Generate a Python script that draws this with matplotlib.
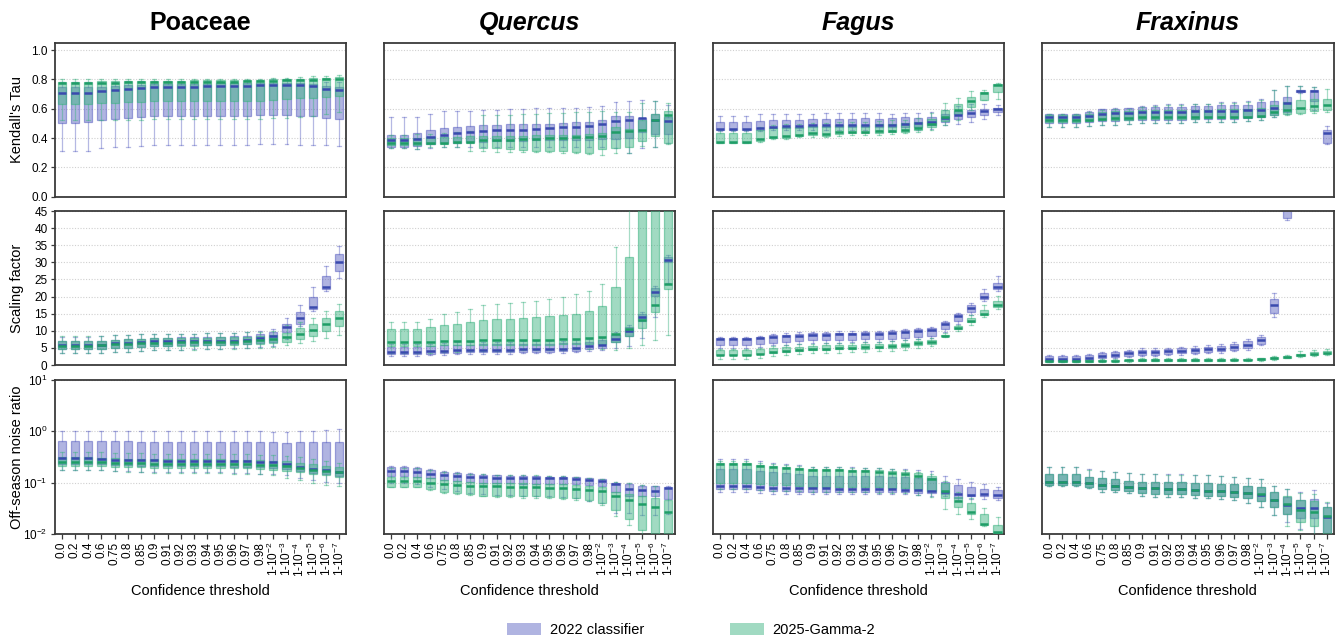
import matplotlib
matplotlib.use("Agg")
import matplotlib.pyplot as plt
from matplotlib.patches import Patch
from matplotlib.ticker import LogLocator, NullLocator, FixedLocator, LogFormatterMathtext

plt.rcParams["font.family"] = ["Liberation Sans", "DejaVu Sans"]
plt.rcParams["mathtext.fontset"] = "custom"
plt.rcParams["mathtext.rm"] = "Liberation Sans"
plt.rcParams["mathtext.it"] = "Liberation Sans:italic"
plt.rcParams["mathtext.bf"] = "Liberation Sans:bold"

# ---------------------------------------------------------------- categories
thresholds = ["0.0", "0.2", "0.4", "0.6", "0.75", "0.8", "0.85", "0.9", "0.91", "0.92",
              "0.93", "0.94", "0.95", "0.96", "0.97", "0.98",
              "1-10$^{-2}$", "1-10$^{-3}$", "1-10$^{-4}$", "1-10$^{-5}$", "1-10$^{-6}$", "1-10$^{-7}$"]
taxa = ["Poaceae", "Quercus", "Fagus", "Fraxinus"]
metrics = ["Kendall's Tau", "Scaling factor", "Off-season noise ratio"]
models = ["2022 classifier", "2025-Gamma-2"]

# ------------------------------------------------ box statistics: Kendall's Tau
poa_tau_22 = dict(
    lo=[0.31, 0.31, 0.31, 0.33, 0.34, 0.34, 0.345, 0.35, 0.35, 0.35, 0.35, 0.35, 0.35, 0.355, 0.355, 0.36, 0.36, 0.36, 0.35, 0.35, 0.35, 0.345],
    q1=[0.505, 0.505, 0.51, 0.52, 0.53, 0.535, 0.54, 0.547, 0.547, 0.549, 0.549, 0.549, 0.551, 0.553, 0.553, 0.556, 0.556, 0.56, 0.551, 0.549, 0.537, 0.53],
    med=[0.71, 0.71, 0.71, 0.72, 0.73, 0.735, 0.74, 0.745, 0.746, 0.748, 0.75, 0.752, 0.753, 0.755, 0.755, 0.76, 0.762, 0.764, 0.76, 0.755, 0.735, 0.725],
    q3=[0.745, 0.745, 0.745, 0.75, 0.755, 0.76, 0.762, 0.765, 0.766, 0.768, 0.77, 0.77, 0.772, 0.773, 0.773, 0.775, 0.776, 0.778, 0.775, 0.77, 0.755, 0.75],
    hi=[0.78, 0.78, 0.78, 0.785, 0.785, 0.79, 0.79, 0.79, 0.79, 0.79, 0.79, 0.79, 0.79, 0.79, 0.795, 0.795, 0.8, 0.8, 0.8, 0.8, 0.78, 0.78])
poa_tau_25 = dict(
    lo=[0.52, 0.52, 0.52, 0.52, 0.525, 0.525, 0.525, 0.53, 0.53, 0.53, 0.53, 0.53, 0.53, 0.53, 0.53, 0.53, 0.535, 0.535, 0.545, 0.55, 0.565, 0.575],
    q1=[0.635, 0.635, 0.635, 0.64, 0.64, 0.645, 0.645, 0.65, 0.65, 0.65, 0.65, 0.65, 0.65, 0.655, 0.655, 0.655, 0.66, 0.665, 0.67, 0.675, 0.68, 0.685],
    med=[0.775, 0.775, 0.775, 0.777, 0.778, 0.78, 0.78, 0.782, 0.782, 0.782, 0.783, 0.783, 0.785, 0.785, 0.787, 0.788, 0.79, 0.793, 0.795, 0.797, 0.8, 0.8],
    q3=[0.785, 0.785, 0.785, 0.787, 0.788, 0.79, 0.79, 0.792, 0.792, 0.792, 0.793, 0.793, 0.795, 0.795, 0.797, 0.798, 0.8, 0.803, 0.805, 0.81, 0.812, 0.815],
    hi=[0.8, 0.8, 0.8, 0.8, 0.8, 0.8, 0.8, 0.8, 0.8, 0.8, 0.8, 0.8, 0.8, 0.8, 0.8, 0.805, 0.81, 0.81, 0.815, 0.82, 0.825, 0.83])

que_tau_22 = dict(
    lo=[0.329, 0.329, 0.324, 0.333, 0.336, 0.34, 0.34, 0.34, 0.34, 0.34, 0.34, 0.34, 0.34, 0.34, 0.34, 0.34, 0.34, 0.329, 0.295, 0.329, 0.34, 0.363],
    q1=[0.34, 0.34, 0.345, 0.358, 0.363, 0.363, 0.372, 0.376, 0.379, 0.379, 0.379, 0.385, 0.385, 0.385, 0.385, 0.385, 0.39, 0.395, 0.397, 0.442, 0.43, 0.426],
    med=[0.385, 0.385, 0.39, 0.408, 0.424, 0.433, 0.442, 0.449, 0.454, 0.454, 0.454, 0.463, 0.467, 0.472, 0.476, 0.483, 0.497, 0.517, 0.526, 0.535, 0.526, 0.515],
    q3=[0.424, 0.424, 0.431, 0.454, 0.467, 0.472, 0.481, 0.488, 0.49, 0.494, 0.494, 0.499, 0.499, 0.503, 0.508, 0.508, 0.522, 0.549, 0.553, 0.537, 0.565, 0.54],
    hi=[0.54, 0.54, 0.544, 0.562, 0.583, 0.583, 0.587, 0.594, 0.594, 0.596, 0.599, 0.603, 0.605, 0.608, 0.608, 0.612, 0.617, 0.644, 0.653, 0.658, 0.653, 0.624])
que_tau_25 = dict(
    lo=[0.329, 0.329, 0.327, 0.336, 0.336, 0.34, 0.313, 0.311, 0.306, 0.306, 0.306, 0.306, 0.306, 0.299, 0.295, 0.29, 0.283, 0.299, 0.299, 0.347, 0.34, 0.358],
    q1=[0.351, 0.351, 0.351, 0.356, 0.358, 0.363, 0.363, 0.329, 0.329, 0.324, 0.317, 0.313, 0.313, 0.313, 0.306, 0.299, 0.324, 0.329, 0.336, 0.381, 0.413, 0.363],
    med=[0.363, 0.363, 0.367, 0.367, 0.367, 0.372, 0.374, 0.385, 0.385, 0.385, 0.39, 0.392, 0.397, 0.399, 0.404, 0.408, 0.417, 0.438, 0.449, 0.454, 0.526, 0.556],
    q3=[0.397, 0.397, 0.401, 0.404, 0.408, 0.408, 0.413, 0.413, 0.417, 0.417, 0.417, 0.42, 0.42, 0.422, 0.424, 0.426, 0.431, 0.472, 0.461, 0.522, 0.567, 0.583],
    hi=[0.42, 0.42, 0.425, 0.43, 0.435, 0.44, 0.445, 0.556, 0.556, 0.56, 0.567, 0.567, 0.571, 0.574, 0.578, 0.578, 0.583, 0.578, 0.578, 0.642, 0.653, 0.642])

fag_tau_22 = dict(
    lo=[0.447, 0.447, 0.447, 0.449, 0.454, 0.454, 0.454, 0.454, 0.454, 0.454, 0.454, 0.454, 0.454, 0.454, 0.454, 0.458, 0.463, 0.488, 0.494, 0.51, 0.533, 0.556],
    q1=[0.454, 0.454, 0.454, 0.458, 0.465, 0.467, 0.469, 0.472, 0.474, 0.474, 0.474, 0.476, 0.476, 0.476, 0.476, 0.478, 0.488, 0.51, 0.533, 0.54, 0.556, 0.576],
    med=[0.463, 0.463, 0.463, 0.469, 0.476, 0.481, 0.483, 0.488, 0.49, 0.49, 0.49, 0.492, 0.492, 0.492, 0.497, 0.501, 0.51, 0.537, 0.56, 0.574, 0.585, 0.596],
    q3=[0.506, 0.506, 0.506, 0.515, 0.522, 0.526, 0.526, 0.531, 0.533, 0.533, 0.533, 0.535, 0.533, 0.535, 0.54, 0.535, 0.54, 0.567, 0.585, 0.59, 0.601, 0.608],
    hi=[0.553, 0.553, 0.553, 0.562, 0.562, 0.562, 0.567, 0.567, 0.571, 0.571, 0.574, 0.574, 0.571, 0.567, 0.569, 0.569, 0.578, 0.594, 0.617, 0.63, 0.63, 0.624])
fag_tau_25 = dict(
    lo=[0.363, 0.363, 0.363, 0.374, 0.39, 0.395, 0.404, 0.408, 0.408, 0.417, 0.42, 0.422, 0.424, 0.426, 0.431, 0.442, 0.458, 0.488, 0.522, 0.59, 0.658, 0.669],
    q1=[0.367, 0.367, 0.367, 0.381, 0.397, 0.401, 0.413, 0.42, 0.417, 0.426, 0.431, 0.431, 0.435, 0.44, 0.444, 0.458, 0.476, 0.517, 0.567, 0.612, 0.662, 0.714],
    med=[0.374, 0.374, 0.374, 0.39, 0.408, 0.413, 0.424, 0.431, 0.426, 0.438, 0.442, 0.442, 0.447, 0.451, 0.458, 0.469, 0.494, 0.54, 0.59, 0.651, 0.707, 0.764],
    q3=[0.435, 0.435, 0.435, 0.454, 0.465, 0.472, 0.476, 0.481, 0.481, 0.488, 0.49, 0.49, 0.494, 0.499, 0.501, 0.51, 0.533, 0.59, 0.63, 0.68, 0.714, 0.771],
    hi=[0.454, 0.454, 0.454, 0.472, 0.488, 0.494, 0.499, 0.503, 0.503, 0.508, 0.512, 0.512, 0.517, 0.522, 0.526, 0.537, 0.571, 0.639, 0.672, 0.72, 0.73, 0.775])

fra_tau_22 = dict(
    lo=[0.476, 0.476, 0.476, 0.483, 0.492, 0.492, 0.499, 0.503, 0.503, 0.503, 0.503, 0.508, 0.51, 0.512, 0.512, 0.517, 0.522, 0.54, 0.567, 0.707, 0.59, 0.358],
    q1=[0.503, 0.503, 0.503, 0.512, 0.517, 0.517, 0.522, 0.526, 0.526, 0.526, 0.526, 0.531, 0.531, 0.531, 0.531, 0.535, 0.544, 0.556, 0.578, 0.712, 0.653, 0.363],
    med=[0.54, 0.54, 0.54, 0.551, 0.567, 0.571, 0.574, 0.578, 0.578, 0.578, 0.58, 0.583, 0.585, 0.585, 0.587, 0.59, 0.594, 0.608, 0.639, 0.719, 0.719, 0.431],
    q3=[0.562, 0.562, 0.562, 0.58, 0.596, 0.601, 0.605, 0.612, 0.612, 0.612, 0.612, 0.619, 0.621, 0.624, 0.624, 0.628, 0.644, 0.653, 0.68, 0.726, 0.73, 0.458],
    hi=[0.567, 0.567, 0.567, 0.585, 0.601, 0.605, 0.608, 0.617, 0.624, 0.63, 0.63, 0.635, 0.635, 0.644, 0.646, 0.653, 0.669, 0.73, 0.753, 0.753, 0.748, 0.483])
fra_tau_25 = dict(
    lo=[0.476, 0.476, 0.476, 0.483, 0.492, 0.492, 0.499, 0.503, 0.503, 0.503, 0.503, 0.508, 0.51, 0.512, 0.512, 0.517, 0.522, 0.54, 0.556, 0.567, 0.571, 0.578],
    q1=[0.506, 0.506, 0.506, 0.515, 0.522, 0.522, 0.526, 0.531, 0.531, 0.531, 0.531, 0.533, 0.535, 0.537, 0.537, 0.54, 0.544, 0.556, 0.567, 0.571, 0.583, 0.594],
    med=[0.522, 0.522, 0.522, 0.526, 0.533, 0.535, 0.535, 0.54, 0.54, 0.54, 0.54, 0.54, 0.542, 0.544, 0.544, 0.546, 0.553, 0.578, 0.59, 0.605, 0.621, 0.624],
    q3=[0.556, 0.556, 0.556, 0.562, 0.578, 0.583, 0.585, 0.59, 0.59, 0.59, 0.59, 0.594, 0.594, 0.596, 0.596, 0.599, 0.605, 0.624, 0.646, 0.658, 0.669, 0.664],
    hi=[0.562, 0.562, 0.562, 0.578, 0.594, 0.599, 0.601, 0.61, 0.617, 0.624, 0.624, 0.63, 0.63, 0.639, 0.639, 0.646, 0.662, 0.73, 0.755, 0.757, 0.748, 0.737])

# ---------------------------------------------- box statistics: scaling factor
poa_scl_22 = dict(
    lo=[3.4, 3.4, 3.4, 3.6, 3.8, 3.9, 4.1, 4.3, 4.4, 4.5, 4.6, 4.7, 4.8, 4.9, 5.0, 5.2, 5.5, 7.5, 11.3, 15.7, 21.5, 25.4],
    q1=[4.6, 4.6, 4.6, 4.7, 5.0, 5.1, 5.4, 5.6, 5.6, 5.7, 5.7, 5.8, 5.9, 6.0, 6.1, 6.4, 6.8, 9.6, 12.1, 16.4, 22.3, 27.6],
    med=[5.7, 5.7, 5.7, 5.9, 6.3, 6.3, 6.6, 6.9, 6.9, 6.9, 6.9, 7.1, 7.1, 7.1, 7.4, 7.9, 8.4, 11.0, 13.8, 17.0, 22.8, 30.1],
    q3=[7.0, 7.0, 7.0, 7.1, 7.4, 7.5, 7.7, 8.0, 8.0, 8.1, 8.1, 8.2, 8.3, 8.4, 8.6, 9.0, 9.7, 12.0, 15.4, 19.9, 25.9, 32.4],
    hi=[8.3, 8.3, 8.3, 8.5, 8.7, 8.8, 9.0, 9.1, 9.1, 9.2, 9.2, 9.3, 9.3, 9.4, 9.5, 9.8, 10.5, 13.8, 17.6, 22.8, 29.0, 34.9])
poa_scl_25 = dict(
    lo=[3.4, 3.4, 3.4, 3.5, 3.8, 3.9, 4.1, 4.3, 4.4, 4.4, 4.5, 4.6, 4.7, 4.8, 4.9, 5.1, 5.3, 5.8, 6.3, 7.0, 8.0, 8.9],
    q1=[4.6, 4.6, 4.6, 4.7, 5.0, 5.1, 5.3, 5.5, 5.5, 5.6, 5.6, 5.7, 5.8, 5.9, 6.0, 6.2, 6.5, 6.7, 7.5, 8.6, 9.9, 11.3],
    med=[5.5, 5.5, 5.5, 5.7, 6.0, 6.1, 6.3, 6.5, 6.5, 6.6, 6.6, 6.7, 6.8, 6.8, 7.0, 7.2, 7.5, 8.2, 9.1, 10.3, 12.0, 13.8],
    q3=[7.0, 7.0, 7.0, 7.1, 7.4, 7.5, 7.6, 7.8, 7.8, 7.9, 7.9, 8.0, 8.1, 8.2, 8.3, 8.5, 8.9, 9.4, 10.9, 12.0, 13.8, 15.7],
    hi=[8.4, 8.4, 8.4, 8.6, 8.8, 8.8, 9.0, 9.1, 9.1, 9.2, 9.2, 9.3, 9.3, 9.4, 9.5, 9.7, 10.0, 11.8, 12.5, 13.8, 15.7, 17.7])

que_scl_22 = dict(
    lo=[2.6, 2.6, 2.6, 2.8, 3.0, 3.1, 3.2, 3.3, 3.3, 3.3, 3.4, 3.4, 3.4, 3.5, 3.7, 4.0, 4.3, 5.0, 5.5, 8.0, 14.0, 24.0],
    q1=[3.2, 3.2, 3.2, 3.3, 3.5, 3.6, 3.7, 3.8, 3.8, 3.8, 3.9, 3.9, 3.9, 4.0, 4.2, 4.6, 5.0, 6.8, 8.5, 12.8, 20.3, 30.2],
    med=[3.8, 3.8, 3.8, 4.0, 4.2, 4.3, 4.4, 4.5, 4.5, 4.5, 4.6, 4.6, 4.6, 4.8, 5.0, 5.5, 5.8, 7.7, 9.9, 14.1, 21.2, 30.7],
    q3=[5.3, 5.3, 5.3, 5.5, 5.7, 5.8, 5.9, 6.0, 6.0, 6.0, 6.1, 6.1, 6.1, 6.3, 6.5, 6.8, 7.3, 8.9, 11.0, 14.9, 22.6, 31.7],
    hi=[6.0, 6.0, 6.0, 6.2, 6.5, 6.6, 6.7, 6.8, 6.8, 6.8, 6.9, 6.9, 6.9, 7.1, 7.3, 7.5, 8.0, 9.5, 11.6, 15.5, 23.0, 32.2])
que_scl_25 = dict(
    lo=[3.4, 3.4, 3.4, 3.5, 3.8, 3.9, 4.0, 4.1, 4.2, 4.2, 4.3, 4.3, 4.4, 4.5, 4.6, 4.7, 4.8, 4.4, 5.0, 5.8, 7.2, 8.8],
    q1=[5.5, 5.5, 5.5, 5.6, 5.7, 5.7, 5.8, 5.8, 5.8, 5.8, 5.9, 5.9, 5.9, 6.0, 6.0, 6.1, 6.2, 6.8, 8.4, 10.9, 15.5, 22.3],
    med=[6.7, 6.7, 6.7, 6.8, 7.0, 7.0, 7.1, 7.2, 7.2, 7.2, 7.2, 7.2, 7.2, 7.5, 7.6, 7.8, 8.1, 9.1, 10.4, 13.1, 17.4, 23.7],
    q3=[10.4, 10.4, 10.4, 11.1, 11.7, 12.1, 12.6, 13.1, 13.3, 13.5, 13.7, 14.0, 14.3, 14.5, 15.0, 15.7, 17.2, 22.7, 31.5, 60.0, 70.0, 80.0],
    hi=[12.5, 12.5, 12.5, 13.5, 14.9, 15.6, 16.5, 17.6, 17.7, 18.2, 18.5, 18.8, 19.3, 19.9, 20.7, 21.7, 23.7, 34.4, 60.0, 80.0, 90.0, 100.0])

fag_scl_22 = dict(
    lo=[5.0, 5.0, 5.0, 5.2, 5.7, 5.8, 6.1, 6.5, 6.5, 6.5, 6.6, 6.7, 6.7, 7.0, 7.2, 7.5, 8.0, 9.6, 12.1, 14.7, 18.7, 21.7],
    q1=[5.8, 5.8, 5.8, 6.0, 6.5, 6.7, 6.9, 7.2, 7.2, 7.2, 7.3, 7.5, 7.5, 7.7, 7.9, 8.2, 8.6, 10.4, 12.8, 15.5, 19.2, 22.3],
    med=[7.5, 7.5, 7.5, 7.8, 8.2, 8.4, 8.6, 8.9, 8.9, 9.0, 9.0, 9.2, 9.2, 9.4, 9.6, 9.8, 10.2, 12.1, 14.3, 16.7, 19.9, 22.8],
    q3=[8.0, 8.0, 8.0, 8.3, 8.7, 8.9, 9.0, 9.3, 9.3, 9.4, 9.4, 9.6, 9.6, 9.8, 10.1, 10.4, 10.9, 12.6, 14.8, 17.6, 21.0, 24.0],
    hi=[8.2, 8.2, 8.2, 8.6, 9.1, 9.3, 9.5, 9.7, 9.7, 9.8, 9.9, 10.0, 10.0, 10.2, 10.4, 10.8, 11.1, 13.0, 15.1, 18.0, 22.1, 25.9])
fag_scl_25 = dict(
    lo=[1.8, 1.8, 1.8, 2.1, 2.6, 2.8, 3.1, 3.4, 3.6, 3.6, 3.7, 3.9, 4.0, 4.2, 4.5, 4.9, 5.5, 8.3, 9.9, 11.8, 14.0, 16.5],
    q1=[2.8, 2.8, 2.8, 3.1, 3.6, 3.8, 4.1, 4.4, 4.5, 4.6, 4.7, 4.8, 4.9, 5.1, 5.4, 5.8, 6.2, 8.5, 10.6, 12.6, 14.7, 16.9],
    med=[3.0, 3.0, 3.0, 3.3, 3.8, 4.0, 4.4, 4.8, 4.8, 4.9, 5.0, 5.2, 5.3, 5.5, 5.9, 6.3, 6.7, 8.6, 10.9, 12.8, 14.9, 17.4],
    q3=[4.3, 4.3, 4.3, 4.6, 5.0, 5.2, 5.4, 5.6, 5.7, 5.8, 5.8, 6.0, 6.1, 6.2, 6.5, 6.9, 7.3, 8.9, 11.4, 13.6, 16.1, 18.7],
    hi=[4.7, 4.7, 4.7, 5.0, 5.5, 5.7, 6.0, 6.2, 6.3, 6.4, 6.5, 6.7, 6.7, 6.9, 7.2, 7.5, 8.0, 9.4, 11.8, 14.5, 17.6, 20.2])

fra_scl_22 = dict(
    lo=[0.9, 0.9, 0.9, 1.2, 1.6, 1.9, 2.2, 2.6, 2.6, 2.8, 3.0, 3.2, 3.4, 3.6, 4.1, 4.5, 5.8, 14.1, 42.5, 50.0, 60.0, 70.0],
    q1=[1.2, 1.2, 1.2, 1.5, 2.0, 2.3, 2.6, 3.0, 3.0, 3.2, 3.4, 3.6, 3.8, 4.0, 4.5, 5.0, 6.2, 15.2, 43.0, 55.0, 65.0, 75.0],
    med=[1.8, 1.8, 1.8, 2.1, 2.7, 3.0, 3.4, 3.8, 3.8, 4.0, 4.2, 4.4, 4.6, 4.8, 5.3, 5.8, 7.3, 17.4, 48.0, 60.0, 70.0, 80.0],
    q3=[2.5, 2.5, 2.5, 2.9, 3.4, 3.7, 4.1, 4.5, 4.5, 4.7, 4.9, 5.1, 5.3, 5.6, 6.2, 6.9, 8.3, 19.3, 60.0, 70.0, 80.0, 90.0],
    hi=[2.8, 2.8, 2.8, 3.2, 3.8, 4.1, 4.5, 4.9, 4.9, 5.1, 5.3, 5.5, 5.8, 6.1, 6.8, 7.5, 8.9, 21.0, 70.0, 80.0, 90.0, 100.0])
fra_scl_25 = dict(
    lo=[0.8, 0.8, 0.8, 0.8, 0.9, 0.9, 1.0, 1.1, 1.1, 1.1, 1.1, 1.1, 1.1, 1.1, 1.2, 1.2, 1.3, 1.5, 1.9, 2.3, 2.6, 2.8],
    q1=[1.0, 1.0, 1.0, 1.0, 1.1, 1.1, 1.2, 1.3, 1.3, 1.3, 1.3, 1.3, 1.3, 1.3, 1.4, 1.4, 1.5, 1.7, 2.1, 2.6, 2.9, 3.1],
    med=[1.2, 1.2, 1.2, 1.2, 1.3, 1.3, 1.4, 1.5, 1.5, 1.5, 1.5, 1.5, 1.5, 1.5, 1.6, 1.6, 1.7, 1.9, 2.3, 2.9, 3.3, 3.6],
    q3=[1.4, 1.4, 1.4, 1.5, 1.5, 1.6, 1.6, 1.7, 1.7, 1.7, 1.7, 1.7, 1.7, 1.8, 1.8, 1.8, 1.9, 2.2, 2.6, 3.3, 3.9, 4.2],
    hi=[1.6, 1.6, 1.6, 1.7, 1.7, 1.8, 1.8, 1.9, 1.9, 1.9, 1.9, 1.9, 1.9, 2.0, 2.0, 2.0, 2.1, 2.5, 3.0, 4.0, 4.5, 4.8])

# --------------------------------------- box statistics: off-season noise ratio
poa_noi_22 = dict(
    lo=[0.18, 0.18, 0.18, 0.175, 0.17, 0.17, 0.165, 0.16, 0.16, 0.16, 0.16, 0.16, 0.16, 0.155, 0.155, 0.15, 0.15, 0.14, 0.125, 0.115, 0.105, 0.1],
    q1=[0.235, 0.235, 0.235, 0.23, 0.22, 0.22, 0.215, 0.21, 0.21, 0.21, 0.21, 0.21, 0.21, 0.205, 0.205, 0.2, 0.195, 0.185, 0.17, 0.155, 0.145, 0.135],
    med=[0.30, 0.30, 0.30, 0.29, 0.277, 0.277, 0.277, 0.277, 0.27, 0.27, 0.27, 0.27, 0.27, 0.27, 0.265, 0.257, 0.25, 0.23, 0.2, 0.185, 0.177, 0.164],
    q3=[0.66, 0.66, 0.66, 0.65, 0.64, 0.64, 0.63, 0.63, 0.62, 0.62, 0.62, 0.62, 0.62, 0.62, 0.62, 0.61, 0.61, 0.60, 0.61, 0.61, 0.62, 0.63],
    hi=[1.0, 1.0, 1.0, 1.0, 1.0, 1.0, 1.0, 1.0, 1.0, 1.0, 1.0, 1.0, 1.0, 1.0, 1.0, 1.0, 0.98, 0.98, 1.0, 1.02, 1.07, 1.1])
poa_noi_25 = dict(
    lo=[0.18, 0.18, 0.18, 0.175, 0.17, 0.165, 0.16, 0.155, 0.155, 0.155, 0.155, 0.155, 0.155, 0.15, 0.15, 0.145, 0.14, 0.125, 0.115, 0.10, 0.09, 0.085],
    q1=[0.215, 0.215, 0.215, 0.21, 0.205, 0.2, 0.2, 0.195, 0.195, 0.195, 0.195, 0.195, 0.195, 0.19, 0.19, 0.185, 0.18, 0.17, 0.16, 0.145, 0.14, 0.13],
    med=[0.255, 0.255, 0.255, 0.25, 0.245, 0.24, 0.24, 0.235, 0.235, 0.235, 0.235, 0.235, 0.235, 0.23, 0.23, 0.225, 0.22, 0.21, 0.195, 0.18, 0.17, 0.16],
    q3=[0.31, 0.31, 0.31, 0.30, 0.30, 0.295, 0.29, 0.29, 0.29, 0.285, 0.285, 0.285, 0.285, 0.28, 0.28, 0.275, 0.27, 0.26, 0.245, 0.23, 0.215, 0.2],
    hi=[0.40, 0.40, 0.40, 0.39, 0.38, 0.38, 0.37, 0.36, 0.36, 0.36, 0.36, 0.36, 0.36, 0.36, 0.36, 0.35, 0.34, 0.33, 0.31, 0.29, 0.265, 0.245])

que_noi_22 = dict(
    lo=[0.098, 0.098, 0.093, 0.084, 0.075, 0.070, 0.064, 0.060, 0.058, 0.058, 0.056, 0.055, 0.054, 0.052, 0.051, 0.044, 0.040, 0.026, 0.026, 0.023, 0.023, 0.025],
    q1=[0.135, 0.135, 0.131, 0.122, 0.113, 0.108, 0.104, 0.100, 0.098, 0.098, 0.096, 0.096, 0.095, 0.095, 0.093, 0.091, 0.087, 0.067, 0.055, 0.055, 0.055, 0.048],
    med=[0.167, 0.167, 0.164, 0.148, 0.142, 0.135, 0.131, 0.128, 0.126, 0.126, 0.124, 0.124, 0.122, 0.122, 0.118, 0.113, 0.108, 0.093, 0.076, 0.072, 0.070, 0.078],
    q3=[0.200, 0.200, 0.194, 0.180, 0.164, 0.157, 0.148, 0.142, 0.140, 0.137, 0.135, 0.133, 0.131, 0.129, 0.128, 0.122, 0.117, 0.100, 0.095, 0.087, 0.085, 0.084],
    hi=[0.212, 0.212, 0.206, 0.188, 0.172, 0.164, 0.153, 0.148, 0.144, 0.142, 0.140, 0.137, 0.135, 0.133, 0.131, 0.126, 0.120, 0.105, 0.098, 0.089, 0.088, 0.087])
que_noi_25 = dict(
    lo=[0.082, 0.082, 0.082, 0.072, 0.064, 0.060, 0.058, 0.054, 0.053, 0.052, 0.051, 0.050, 0.050, 0.048, 0.046, 0.043, 0.037, 0.022, 0.015, 0.008, 0.007, 0.006],
    q1=[0.084, 0.084, 0.084, 0.075, 0.067, 0.062, 0.060, 0.056, 0.056, 0.054, 0.054, 0.054, 0.052, 0.051, 0.050, 0.046, 0.040, 0.030, 0.020, 0.012, 0.0096, 0.0089],
    med=[0.108, 0.108, 0.108, 0.100, 0.093, 0.091, 0.088, 0.085, 0.085, 0.084, 0.083, 0.082, 0.080, 0.078, 0.076, 0.072, 0.068, 0.055, 0.046, 0.039, 0.033, 0.027],
    q3=[0.131, 0.131, 0.131, 0.122, 0.113, 0.108, 0.104, 0.100, 0.099, 0.098, 0.098, 0.096, 0.095, 0.093, 0.091, 0.087, 0.082, 0.067, 0.061, 0.054, 0.050, 0.045],
    hi=[0.19, 0.19, 0.19, 0.175, 0.16, 0.155, 0.15, 0.145, 0.142, 0.14, 0.14, 0.138, 0.136, 0.134, 0.13, 0.125, 0.12, 0.105, 0.097, 0.09, 0.085, 0.08])

fag_noi_22 = dict(
    lo=[0.067, 0.067, 0.065, 0.062, 0.060, 0.060, 0.060, 0.060, 0.060, 0.060, 0.060, 0.060, 0.060, 0.060, 0.060, 0.058, 0.056, 0.054, 0.046, 0.048, 0.048, 0.045],
    q1=[0.076, 0.076, 0.076, 0.072, 0.070, 0.070, 0.067, 0.067, 0.067, 0.066, 0.066, 0.066, 0.066, 0.066, 0.066, 0.064, 0.062, 0.060, 0.051, 0.054, 0.054, 0.051],
    med=[0.0865, 0.0865, 0.0865, 0.084, 0.080, 0.080, 0.078, 0.077, 0.077, 0.076, 0.076, 0.076, 0.076, 0.075, 0.072, 0.072, 0.070, 0.067, 0.061, 0.058, 0.061, 0.058],
    q3=[0.185, 0.185, 0.185, 0.172, 0.16, 0.153, 0.146, 0.137, 0.135, 0.135, 0.135, 0.135, 0.135, 0.131, 0.128, 0.122, 0.122, 0.102, 0.091, 0.082, 0.076, 0.072],
    hi=[0.29, 0.29, 0.286, 0.27, 0.246, 0.231, 0.218, 0.206, 0.206, 0.203, 0.2, 0.197, 0.194, 0.185, 0.182, 0.177, 0.172, 0.137, 0.118, 0.105, 0.093, 0.084])
fag_noi_25 = dict(
    lo=[0.075, 0.075, 0.075, 0.072, 0.07, 0.07, 0.068, 0.066, 0.066, 0.065, 0.065, 0.065, 0.064, 0.063, 0.062, 0.058, 0.052, 0.031, 0.024, 0.02, 0.014, 0.0105],
    q1=[0.098, 0.098, 0.098, 0.093, 0.091, 0.091, 0.088, 0.084, 0.084, 0.084, 0.084, 0.084, 0.082, 0.080, 0.078, 0.075, 0.070, 0.051, 0.034, 0.025, 0.015, 0.010],
    med=[0.228, 0.228, 0.228, 0.212, 0.2, 0.194, 0.185, 0.177, 0.174, 0.174, 0.172, 0.17, 0.164, 0.157, 0.148, 0.137, 0.118, 0.070, 0.044, 0.027, 0.016, 0.011],
    q3=[0.239, 0.239, 0.239, 0.221, 0.212, 0.206, 0.191, 0.185, 0.185, 0.182, 0.18, 0.177, 0.174, 0.172, 0.164, 0.153, 0.135, 0.098, 0.052, 0.040, 0.024, 0.015],
    hi=[0.26, 0.26, 0.26, 0.245, 0.23, 0.225, 0.215, 0.205, 0.2, 0.2, 0.195, 0.193, 0.19, 0.185, 0.177, 0.165, 0.15, 0.11, 0.065, 0.05, 0.032, 0.021])

fra_noi_22 = dict(
    lo=[0.0865, 0.0865, 0.0865, 0.078, 0.0671, 0.065, 0.0623, 0.0553, 0.0537, 0.053, 0.053, 0.0513, 0.0498, 0.0476, 0.0462, 0.0398, 0.0343, 0.0236, 0.0175, 0.0124, 0.0096, 0.0089],
    q1=[0.0906, 0.0906, 0.0906, 0.084, 0.0757, 0.0723, 0.0702, 0.0623, 0.0605, 0.0596, 0.0596, 0.0578, 0.0561, 0.0553, 0.0537, 0.0498, 0.043, 0.0333, 0.0247, 0.0203, 0.0203, 0.0104],
    med=[0.105, 0.105, 0.105, 0.0975, 0.0906, 0.0865, 0.084, 0.078, 0.078, 0.0757, 0.0757, 0.0723, 0.0702, 0.0692, 0.0671, 0.0642, 0.0578, 0.0462, 0.037, 0.0328, 0.0318, 0.0219],
    q3=[0.146, 0.146, 0.146, 0.131, 0.122, 0.117, 0.110, 0.105, 0.105, 0.102, 0.102, 0.0975, 0.0975, 0.0946, 0.0933, 0.088, 0.0815, 0.065, 0.0537, 0.0462, 0.0476, 0.0343],
    hi=[0.206, 0.206, 0.206, 0.185, 0.172, 0.164, 0.157, 0.148, 0.148, 0.146, 0.146, 0.142, 0.142, 0.135, 0.131, 0.126, 0.118, 0.088, 0.0757, 0.065, 0.072, 0.0398])
fra_noi_25 = dict(
    lo=[0.0865, 0.0865, 0.0865, 0.078, 0.0671, 0.065, 0.0623, 0.0553, 0.0537, 0.053, 0.053, 0.0513, 0.0498, 0.0476, 0.0462, 0.0398, 0.0343, 0.0236, 0.014, 0.012, 0.0096, 0.0089],
    q1=[0.0906, 0.0906, 0.0906, 0.084, 0.0757, 0.0723, 0.0702, 0.0623, 0.0605, 0.0596, 0.0596, 0.0578, 0.0561, 0.0553, 0.0537, 0.0498, 0.043, 0.0333, 0.0243, 0.0175, 0.014, 0.01],
    med=[0.105, 0.105, 0.105, 0.1, 0.0906, 0.0865, 0.084, 0.078, 0.078, 0.0757, 0.0757, 0.0723, 0.0702, 0.0692, 0.0671, 0.0642, 0.0596, 0.0462, 0.038, 0.0296, 0.0274, 0.0226],
    q3=[0.146, 0.146, 0.146, 0.131, 0.122, 0.117, 0.110, 0.105, 0.105, 0.102, 0.102, 0.0975, 0.0975, 0.0946, 0.0933, 0.088, 0.0815, 0.065, 0.0553, 0.0462, 0.043, 0.0343],
    hi=[0.2, 0.2, 0.2, 0.18, 0.168, 0.16, 0.153, 0.145, 0.145, 0.143, 0.143, 0.14, 0.14, 0.133, 0.13, 0.124, 0.116, 0.086, 0.074, 0.064, 0.06, 0.042])

panels = [
    [(poa_tau_22, poa_tau_25), (que_tau_22, que_tau_25), (fag_tau_22, fag_tau_25), (fra_tau_22, fra_tau_25)],
    [(poa_scl_22, poa_scl_25), (que_scl_22, que_scl_25), (fag_scl_22, fag_scl_25), (fra_scl_22, fra_scl_25)],
    [(poa_noi_22, poa_noi_25), (que_noi_22, que_noi_25), (fag_noi_22, fag_noi_25), (fra_noi_22, fra_noi_25)],
]

# ------------------------------------------------------------------- styling
BLUE = "#5b62c2"
BLUE_MED = "#3a4aae"
GREEN = "#3cb381"
GREEN_MED = "#1f9d67"
GRID = "#d0d0d0"
SPINE = "#3a3a3a"


def rgba(hex_color, alpha):
    h = hex_color.lstrip("#")
    return tuple(int(h[i:i + 2], 16) / 255 for i in (0, 2, 4)) + (alpha,)


def to_stats(d):
    return [dict(whislo=lo, q1=a, med=m, q3=b, whishi=hi, fliers=[])
            for lo, a, m, b, hi in zip(d["lo"], d["q1"], d["med"], d["q3"], d["hi"])]


def draw_series(ax, d, color, med_color, z):
    ax.bxp(to_stats(d), positions=list(range(len(thresholds))), widths=0.62,
           patch_artist=True, showfliers=False, capwidths=0.3, manage_ticks=False,
           boxprops=dict(facecolor=rgba(color, 0.48), edgecolor=rgba(color, 0.55), linewidth=0.9),
           whiskerprops=dict(color=rgba(color, 0.45), linewidth=0.9),
           capprops=dict(color=rgba(color, 0.45), linewidth=0.9),
           medianprops=dict(color=med_color, linewidth=1.8, solid_capstyle="butt", zorder=z + 2),
           zorder=z)


W, H = 1337, 638
fig = plt.figure(figsize=(W / 100, H / 100), dpi=100)

col_left = [54.5, 383.5, 712.7, 1042.0]
row_top = [42.7, 211.0, 380.0]
ax_w, ax_h = 291.5, 154.0

for r in range(3):
    for c in range(4):
        ax = fig.add_axes([col_left[c] / W, 1 - (row_top[r] + ax_h) / H, ax_w / W, ax_h / H])
        d22, d25 = panels[r][c]
        draw_series(ax, d22, BLUE, BLUE_MED, 2)
        draw_series(ax, d25, GREEN, GREEN_MED, 3)
        ax.set_xlim(-0.55, 21.5)

        if r == 0:
            ax.set_ylim(0, 1.05)
            ax.yaxis.set_major_locator(FixedLocator([0, 0.2, 0.4, 0.6, 0.8, 1.0]))
            ax.yaxis.set_major_formatter(plt.FuncFormatter(lambda v, p: f"{v:.1f}"))
        elif r == 1:
            ax.set_ylim(0, 45)
            ax.yaxis.set_major_locator(FixedLocator(list(range(0, 46, 5))))
        else:
            ax.set_yscale("log")
            ax.set_ylim(0.01, 10)
            ax.yaxis.set_major_locator(LogLocator(base=10, numticks=5))
            ax.yaxis.set_major_formatter(LogFormatterMathtext())
            ax.yaxis.set_minor_locator(NullLocator())

        ax.grid(axis="y", which="major", linestyle=(0, (1, 1.5)), color=GRID, linewidth=0.8, zorder=0)
        ax.set_axisbelow(True)
        for s in ax.spines.values():
            s.set_color(SPINE)
            s.set_linewidth(1.3)

        ax.set_xticks(range(len(thresholds)))
        if r == 2:
            ax.set_xticklabels(thresholds, rotation=90, fontsize=8.5)
            ax.tick_params(axis="x", length=3.5, width=0.9, color=SPINE, pad=2)
            ax.set_xlabel("Confidence threshold", fontsize=10.5)
            ax.xaxis.set_label_coords(0.5, -0.325)
        else:
            ax.tick_params(axis="x", length=0, labelbottom=False)

        if c == 0:
            ax.tick_params(axis="y", labelsize=8.5, length=3, width=0.9, color=SPINE, pad=2)
            ax.set_ylabel(metrics[r], fontsize=10.5)
            ax.yaxis.set_label_coords(-0.105, 0.5)
        else:
            ax.tick_params(axis="y", length=0, labelleft=False)

        if r == 0:
            ax.set_title(taxa[c], fontsize=18, fontweight="bold",
                         fontstyle="normal" if c == 0 else "italic", pad=9)

handles = [Patch(facecolor=rgba(BLUE, 0.48), edgecolor="none"),
           Patch(facecolor=rgba(GREEN, 0.48), edgecolor="none")]
fig.legend(handles, models, loc="center", bbox_to_anchor=(0.517, 0.012), ncol=2,
           frameon=False, fontsize=10.5, handlelength=2.3, handleheight=0.9,
           handletextpad=0.6, columnspacing=5.9)

fig.savefig("out.png", dpi=100)
